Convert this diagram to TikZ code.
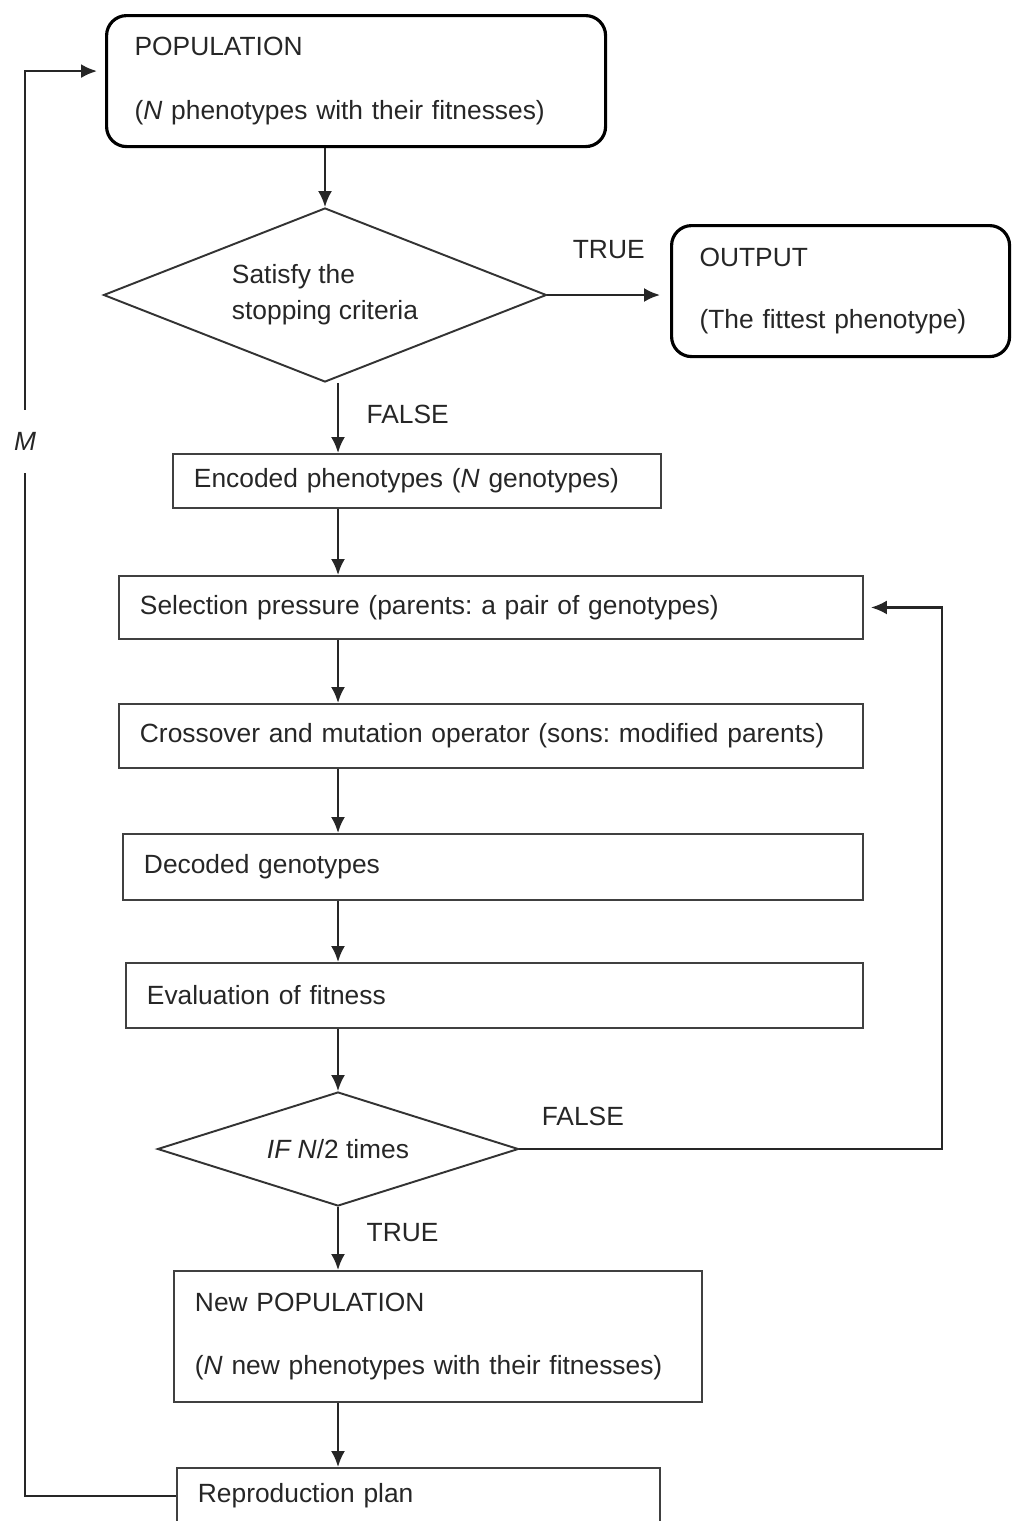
\documentclass[tikz,border=0pt]{standalone}
\usepackage{fontspec}
\setmainfont{Liberation Sans}
\usetikzlibrary{shapes.geometric,arrows.meta,positioning}
\frenchspacing

\begin{document}
\begin{tikzpicture}[>={Latex[length=0.32cm,width=0.28cm]},
    every node/.style={font=\fontsize{15pt}{18pt}\selectfont, text=black!85},
    roundbox/.style={draw, rounded corners=0.4cm, line width=1.8pt, anchor=north west, inner xsep=0.56cm, align=left},
    box/.style={draw=black!75, line width=1.1pt, anchor=north west, inner xsep=0.42cm, align=left},
    decision/.style={diamond, draw=black!80, line width=1.1pt, inner sep=0pt, align=left},
    lbl/.style={inner sep=0pt},
    link/.style={->, line width=1.3pt, color=black!85}]
            \useasboundingbox (0,0) rectangle (20.22,-30.42);
            \node[roundbox, text width=8.86cm, minimum height=2.62cm] (pop) at (2.10,-0.28) {POPULATION\\[0.63cm](\textit{N} phenotypes with their fitnesses)};
            \node[decision, aspect=2.55, minimum width=8.86cm, minimum height=3.48cm] (stop) at (6.50,-5.90) {Satisfy the\\[2.5pt]stopping criteria};
            \node[roundbox, text width=5.64cm, minimum height=2.62cm] (out) at (13.40,-4.48) {OUTPUT\\[0.61cm](The fittest phenotype)};
            \node[box, text width=8.92cm, minimum height=1.08cm] (enc) at (3.44,-9.06) {Encoded phenotypes (\textit{N} genotypes)};
            \node[box, text width=14.04cm, minimum height=1.26cm] (sel) at (2.36,-11.50) {Selection pressure (parents: a pair of genotypes)};
            \node[box, text width=14.04cm, minimum height=1.28cm] (cross) at (2.36,-14.06) {Crossover and mutation operator (sons: modified parents)};
            \node[box, text width=13.96cm, minimum height=1.32cm] (dec) at (2.44,-16.66) {Decoded genotypes};
            \node[box, text width=13.90cm, minimum height=1.30cm] (fit) at (2.50,-19.24) {Evaluation of fitness};
            \node[decision, aspect=3.17, minimum width=7.22cm, minimum height=2.28cm] (half) at (6.76,-22.98) {\textit{IF N}/2 times};
            \node[box, text width=9.72cm, minimum height=2.62cm] (newpop) at (3.46,-25.40) {New POPULATION\\[0.61cm](\textit{N} new phenotypes with their fitnesses)};
            \node[box, text width=8.82cm, minimum height=1.12cm] (rep) at (3.52,-29.34) {Reproduction plan};
            \coordinate (col) at (6.76,0);
            \coordinate (lcol) at (0.50,0);
            \coordinate (rcol) at (18.84,0);
            \coordinate (popin) at ([yshift=0.2cm]pop.west);
            \path[link] (pop.south -| stop.north) edge (stop.north);
            \path[link, shorten >=0.2cm] (stop.east) edge node[lbl, above=0.7cm] (t1) {TRUE} (out.west |- stop.east);
            \path[link] (stop.south -| col) edge node[lbl, right=0.55cm, pos=0.45] (f1) {FALSE} (enc.north -| col);
            \path[link] (enc.south -| col) edge (sel.north -| col);
            \path[link] (sel.south -| col) edge (cross.north -| col);
            \path[link] (cross.south -| col) edge (dec.north -| col);
            \path[link] (dec.south -| col) edge (fit.north -| col);
            \path[link] (fit.south -| col) edge (half.north);
            \path[link] (half.south) edge node[lbl, right=0.55cm, pos=0.4] (t2) {TRUE} (newpop.north -| col);
            \path[link] (newpop.south -| col) edge (rep.north -| col);
            % loop back when N/2 pairs are not done
            \draw[link, shorten >=0.14cm] (half.east) -- node[lbl, above=0.44cm, pos=0.15] (f2) {FALSE} (half.east -| rcol) |- (sel.east);
            % M generations
            \draw[link, shorten >=0.16cm] (rep.west) -- (rep.west -| lcol) -- node[fill=white, pos=0.74, inner xsep=2pt, inner ysep=0.45cm] (m) {\textit{M}} (popin -| lcol) -- (popin);
        \end{tikzpicture}
\end{document}
